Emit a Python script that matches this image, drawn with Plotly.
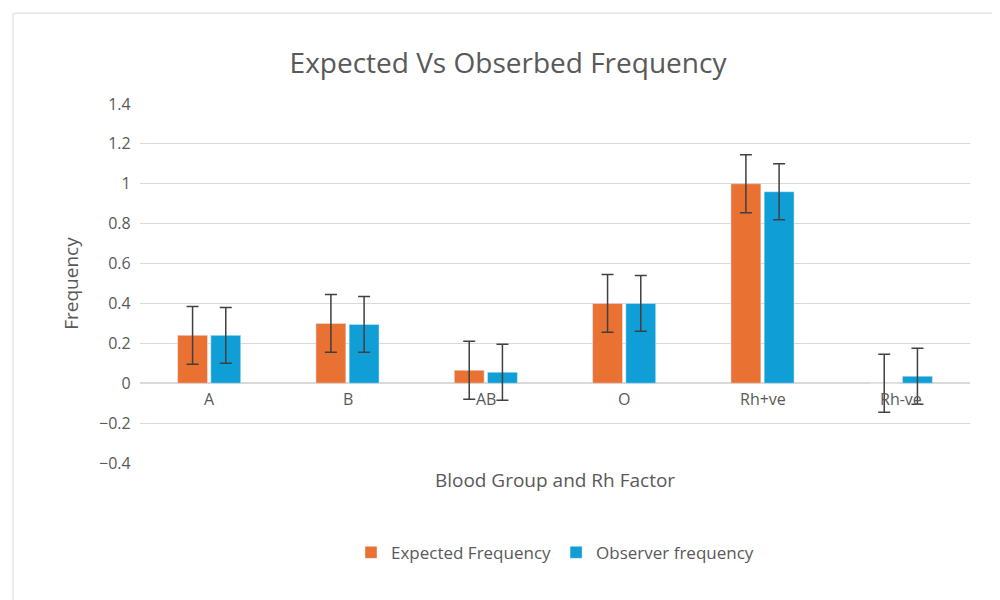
import plotly.graph_objects as go

categories = ["A", "B", "AB", "O", "Rh+ve", "Rh-ve"]
expected = [0.24, 0.30, 0.065, 0.40, 1.0, 0.0]
observed = [0.24, 0.295, 0.055, 0.40, 0.96, 0.035]
exp_err = [0.145] * 6
obs_err = [0.14] * 6

fig = go.Figure()
fig.add_trace(go.Bar(x=categories, y=expected, name="Expected Frequency", marker_color="#E97132",
                     error_y=dict(type="data", array=exp_err, color="#404040", thickness=1.5, width=6)))
fig.add_trace(go.Bar(x=categories, y=observed, name="Observer frequency", marker_color="#0F9ED5",
                     error_y=dict(type="data", array=obs_err, color="#404040", thickness=1.5, width=6)))

for c in categories:
    fig.add_annotation(x=c, y=0, yshift=-16, text=c, showarrow=False,
                       font=dict(size=16, color="#595959"))

fig.update_layout(
    width=1000, height=600, paper_bgcolor="white", plot_bgcolor="white",
    font=dict(family="Open Sans, Liberation Sans", color="#595959"),
    title=dict(text="Expected Vs Obserbed Frequency", x=0.5, y=0.925, xanchor="center",
               font=dict(size=28, color="#595959")),
    margin=dict(l=132, r=38, t=96, b=145),
    barmode="group", bargap=0.52, bargroupgap=0.1,
    xaxis=dict(showticklabels=False, title=dict(text="Blood Group and Rh Factor", font=dict(size=19), standoff=10)),
    yaxis=dict(range=[-0.4, 1.4], dtick=0.2, gridcolor="#D9D9D9", zeroline=True, zerolinecolor="#D9D9D9",
               tickfont=dict(size=16), tickformat="~g", ticksuffix="  ",
               title=dict(text="Frequency", font=dict(size=19))),
    legend=dict(orientation="h", x=0.5, xanchor="center", y=-0.2, yanchor="top", font=dict(size=17)),
    shapes=[dict(type="rect", xref="paper", yref="paper", x0=-0.153, x1=1.040, y0=-0.39, y1=1.253,
                 line=dict(color="#D9D9D9", width=1))],
)
fig.write_html("out.html")
